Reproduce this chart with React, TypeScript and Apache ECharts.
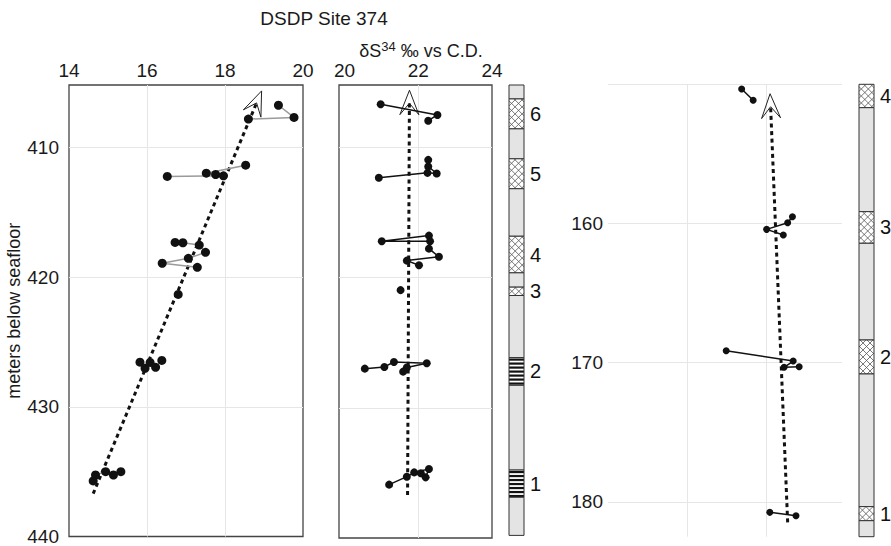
import React, { useEffect, useRef } from 'react';
import * as echarts from 'echarts';

const FONT = '"Liberation Sans", Arial, Helvetica, sans-serif';

// Title texts
const TITLE = 'DSDP Site 374';

// Left panel: delta S34 (upper scale 14-20) vs depth (mbsf)
const leftTicks = [14, 16, 18, 20];
const leftDepthLabels = [410, 420, 430, 440];
const leftGroups: number[][][] = [
  [[19.37, 406.76], [19.77, 407.7], [18.6, 407.83]],
  [[18.53, 411.38], [17.52, 412.0], [17.76, 412.1], [17.96, 412.2], [16.52, 412.25]],
  [[16.72, 417.33], [16.92, 417.36], [17.34, 417.54], [17.5, 418.1], [17.06, 418.56], [16.39, 418.94], [17.29, 419.25]],
  [[16.8, 421.34]],
  [[15.82, 426.56], [15.95, 427.04], [16.08, 426.58], [16.22, 426.96], [16.38, 426.43]],
  [[14.62, 435.72], [14.68, 435.26], [14.94, 435.0], [15.14, 435.26], [15.33, 435.0]],
];
const leftTrend = [14.62, 436.7, 18.81, 406.58];

// Middle panel: delta S34 (20-24)
const midTicks = [20, 22, 24];
const midGroups: number[][][] = [
  [[20.98, 406.68], [22.52, 407.5], [22.27, 407.94]],
  [[22.27, 410.95], [22.27, 411.46], [22.5, 412.0], [22.25, 411.95], [20.93, 412.33]],
  [[22.29, 416.77], [21.01, 417.2], [22.32, 417.2], [22.29, 417.77], [22.56, 418.4], [21.69, 418.69], [22.02, 419.05]],
  [[21.52, 420.96]],
  [[20.55, 426.99], [21.08, 426.86], [21.34, 426.48], [22.23, 426.58], [21.69, 426.9], [21.59, 427.22]],
  [[21.21, 435.9], [21.69, 435.29], [21.89, 434.96], [22.29, 434.7], [22.2, 435.34], [22.07, 435.03]],
];
const midTrend = [21.71, 436.7, 21.76, 406.6];

// Right panel (second depth scale)
const rightDepthLabels = [160, 170, 180];
const rightGroups: number[][][] = [
  [[21.37, 150.34], [21.66, 151.15]],
  [[22.65, 159.51], [22.53, 159.94], [22.0, 160.42], [22.42, 160.83]],
  [[20.98, 169.14], [22.67, 169.88], [22.44, 170.33], [22.82, 170.29]],
  [[22.08, 180.75], [22.74, 180.99]],
];
const rightTrend = [22.53, 181.47, 22.1, 151.61];

// Lithology columns: [top depth, bottom depth, kind (0 plain, 1 cross-hatch, 2 stripes), unit label]
const column374 = [
  [405.2, 406.27, 0, 0], [406.27, 408.57, 1, 6], [408.57, 410.87, 0, 0], [410.87, 413.17, 1, 5],
  [413.17, 416.82, 0, 0], [416.82, 419.63, 1, 4], [419.63, 420.73, 0, 0], [420.73, 421.37, 1, 3],
  [421.37, 426.14, 0, 0], [426.14, 428.27, 2, 2], [428.27, 434.78, 0, 0], [434.78, 436.87, 2, 1],
  [436.87, 439.8, 0, 0],
];
const columnRight = [
  [150, 151.68, 1, 4], [151.68, 159.15, 0, 0], [159.15, 161.42, 1, 3], [161.42, 168.37, 0, 0],
  [168.37, 170.81, 1, 2], [170.81, 180.34, 0, 0], [180.34, 181.35, 1, 1], [181.35, 182.5, 0, 0],
];

function stripRender(params: any, api: any) {
  const cs = params.coordSys;
  const y0 = api.coord([0, api.value(0)])[1];
  const y1 = api.coord([0, api.value(1)])[1];
  const kind = api.value(2);
  const lab = api.value(3);
  const x = cs.x;
  const w = cs.width;
  const h = y1 - y0;
  const children: any[] = [];
  children.push({
    type: 'rect',
    shape: { x, y: y0, width: w, height: h },
    style: { fill: kind === 0 ? '#e4e4e4' : '#ffffff', stroke: 'none' },
  });
  if (kind === 1) {
    const s = 7;
    const st = { stroke: '#555', lineWidth: 0.8 };
    for (let c = -h; c < w; c += s) {
      const t0 = Math.max(0, -c);
      const t1 = Math.min(h, w - c);
      if (t1 > t0) children.push({ type: 'line', shape: { x1: x + c + t0, y1: y0 + t0, x2: x + c + t1, y2: y0 + t1 }, style: st });
    }
    for (let c = 0; c < w + h; c += s) {
      const t0 = Math.max(0, c - w);
      const t1 = Math.min(h, c);
      if (t1 > t0) children.push({ type: 'line', shape: { x1: x + c - t0, y1: y0 + t0, x2: x + c - t1, y2: y0 + t1 }, style: st });
    }
  }
  if (kind === 2) {
    for (let yy = y0 + 2; yy < y1 - 1; yy += 4) {
      children.push({ type: 'line', shape: { x1: x, y1: yy, x2: x + w, y2: yy }, style: { stroke: '#111', lineWidth: 2.2 } });
    }
  }
  children.push({
    type: 'rect',
    shape: { x, y: y0, width: w, height: h },
    style: { fill: 'none', stroke: '#333', lineWidth: 1 },
  });
  if (lab) {
    children.push({
      type: 'text',
      x: x + w + 6,
      y: (y0 + y1) / 2,
      style: { text: String(lab), fontSize: 20, fontFamily: FONT, fill: '#111', align: 'left', verticalAlign: 'middle' },
    });
  }
  return { type: 'group', children };
}

function trendRender(params: any, api: any) {
  const p0 = api.coord([api.value(0), api.value(1)]);
  const p1 = api.coord([api.value(2), api.value(3)]);
  const dx = p1[0] - p0[0];
  const dy = p1[1] - p0[1];
  const len = Math.hypot(dx, dy);
  const ux = dx / len;
  const uy = dy / len;
  const nx = -uy;
  const ny = ux;
  const tip = [p1[0] + ux * 13, p1[1] + uy * 13];
  const base = [p1[0] - ux * 11.5, p1[1] - uy * 11.5];
  const wa = [base[0] + nx * 9.5, base[1] + ny * 9.5];
  const wb = [base[0] - nx * 9.5, base[1] - ny * 9.5];
  return {
    type: 'group',
    children: [
      {
        type: 'polyline',
        shape: { points: [p0, p1] },
        style: { stroke: '#111', lineWidth: 3, lineDash: [4, 3.6], fill: 'none' },
      },
      {
        type: 'polygon',
        shape: { points: [tip, wa, p1, wb] },
        style: { stroke: '#222', lineWidth: 1, fill: 'none' },
      },
    ],
  };
}

function groupSeries(groups: number[][][], idx: number, lineColor: string, size: number) {
  return groups.map((g) => ({
    type: 'line',
    xAxisIndex: idx,
    yAxisIndex: idx,
    data: g,
    symbol: 'circle',
    symbolSize: size,
    showSymbol: true,
    showAllSymbol: true,
    itemStyle: { color: '#111' },
    lineStyle: { color: lineColor, width: 1.5 },
    silent: true,
    z: 4,
  }));
}

const labelStyle = { fontSize: 19, fontFamily: FONT, color: '#1a1a1a' };
const gridLine = { show: true, lineStyle: { color: '#e6e6e6', width: 1 } };

export default function App() {
  const ref = useRef<HTMLDivElement>(null);
  useEffect(() => {
    if (!ref.current) return;
    const chart = echarts.init(ref.current, undefined, { renderer: 'svg' });
    const option: any = {
      animation: false,
      backgroundColor: '#ffffff',
      graphic: [
        {
          type: 'text',
          x: 324,
          y: 18,
          style: { text: TITLE, fontSize: 19, fontFamily: FONT, fill: '#1a1a1a', align: 'center', verticalAlign: 'middle' },
        },
        {
          type: 'text',
          x: 421,
          y: 50,
          style: {
            text: '{n|δS}{s|34}{n| ‰ vs C.D.}',
            fontFamily: FONT,
            fill: '#1a1a1a',
            align: 'center',
            verticalAlign: 'middle',
            rich: {
              n: { fontSize: 18, fontFamily: FONT, fill: '#1a1a1a', lineHeight: 20, verticalAlign: 'bottom' },
              s: { fontSize: 13, fontFamily: FONT, fill: '#1a1a1a', lineHeight: 20, verticalAlign: 'top' },
            },
          },
        },
      ],
      grid: [
        { left: 69, top: 85, width: 234, height: 453, show: true, borderColor: '#444', borderWidth: 1.3, backgroundColor: 'transparent' },
        { left: 339, top: 85, width: 153, height: 453, show: true, borderColor: '#444', borderWidth: 1.3, backgroundColor: 'transparent' },
        { left: 509, top: 85, width: 15, height: 453 },
        { left: 608, top: 84.3, width: 234, height: 452.4 },
        { left: 859, top: 84.3, width: 15, height: 452.4 },
      ],
      xAxis: [
        {
          gridIndex: 0, type: 'value', position: 'top', min: 14, max: 20, interval: 2,
          axisLine: { show: false }, axisTick: { show: false, customValues: [16, 18] },
          axisLabel: { ...labelStyle, margin: 5, customValues: leftTicks },
          splitLine: gridLine,
        },
        {
          gridIndex: 1, type: 'value', position: 'top', min: 19.85, max: 24,
          axisLine: { show: false }, axisTick: { show: false, customValues: [22] },
          axisLabel: { ...labelStyle, margin: 5, customValues: midTicks },
          splitLine: gridLine,
        },
        { gridIndex: 2, type: 'value', min: 0, max: 1, show: false },
        {
          gridIndex: 3, type: 'value', min: 18, max: 23.9,
          axisLine: { show: false }, axisTick: { show: false, customValues: [20, 22] },
          axisLabel: { show: false },
          splitLine: gridLine,
        },
        { gridIndex: 4, type: 'value', min: 0, max: 1, show: false },
      ],
      yAxis: [
        {
          gridIndex: 0, type: 'value', inverse: true, min: 405.2, max: 440,
          axisLine: { show: false }, axisTick: { show: false, customValues: [410, 420, 430] },
          axisLabel: { ...labelStyle, margin: 10, customValues: leftDepthLabels },
          splitLine: gridLine,
          name: 'meters below seafloor', nameLocation: 'middle', nameRotate: 90, nameGap: 45,
          nameTextStyle: { fontSize: 18, fontFamily: FONT, color: '#1a1a1a' },
        },
        {
          gridIndex: 1, type: 'value', inverse: true, min: 405.2, max: 440,
          axisLine: { show: false }, axisTick: { show: false, customValues: [410, 420, 430] },
          axisLabel: { show: false },
          splitLine: gridLine,
        },
        { gridIndex: 2, type: 'value', inverse: true, min: 405.2, max: 440, show: false },
        {
          gridIndex: 3, type: 'value', inverse: true, min: 150, max: 182.5,
          axisLine: { show: false }, axisTick: { show: false, customValues: [150, 160, 170, 180] },
          axisLabel: { ...labelStyle, margin: 5, customValues: rightDepthLabels },
          splitLine: gridLine,
        },
        { gridIndex: 4, type: 'value', inverse: true, min: 150, max: 182.5, show: false },
      ],
      series: [
        { type: 'custom', xAxisIndex: 0, yAxisIndex: 0, data: [leftTrend], renderItem: trendRender, clip: false, silent: true, z: 3 },
        { type: 'custom', xAxisIndex: 1, yAxisIndex: 1, data: [midTrend], renderItem: trendRender, clip: false, silent: true, z: 3 },
        { type: 'custom', xAxisIndex: 3, yAxisIndex: 3, data: [rightTrend], renderItem: trendRender, clip: false, silent: true, z: 3 },
        ...groupSeries(leftGroups, 0, '#9a9a9a', 9),
        ...groupSeries(midGroups, 1, '#111111', 8),
        ...groupSeries(rightGroups, 3, '#111111', 7),
        { type: 'custom', xAxisIndex: 2, yAxisIndex: 2, data: column374, renderItem: stripRender, clip: false, silent: true },
        { type: 'custom', xAxisIndex: 4, yAxisIndex: 4, data: columnRight, renderItem: stripRender, clip: false, silent: true },
      ],
    };
    chart.setOption(option);
    return () => chart.dispose();
  }, []);
  return <div ref={ref} style={{ position: 'fixed', left: 0, top: 0, width: 891, height: 546 }} />;
}
